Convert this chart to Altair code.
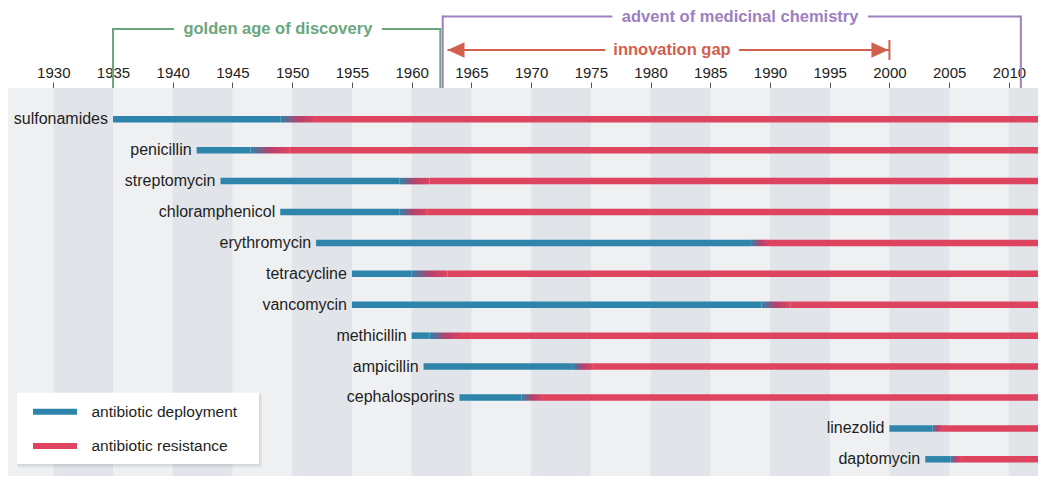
import altair as alt
import pandas as pd

# ---------------- data ----------------
drugs = ["sulfonamides", "penicillin", "streptomycin", "chloramphenicol",
         "erythromycin", "tetracycline", "vancomycin", "methicillin",
         "ampicillin", "cephalosporins", "linezolid", "daptomycin"]
deployed = [1935.0, 1942.0, 1944.0, 1949.0, 1952.0, 1955.0,
            1955.0, 1960.0, 1961.0, 1964.0, 2000.0, 2003.0]
resistance_emerging = [1949.0, 1946.5, 1959.0, 1959.0, 1988.4, 1960.0,
                       1989.3, 1961.5, 1973.5, 1969.2, 2003.6, 2005.1]
resistance_established = [1952.0, 1949.8, 1961.5, 1961.3, 1990.0, 1963.0,
                          1991.7, 1964.3, 1975.2, 1971.0, 2004.4, 2006.0]
timeline_end = 2012.9

tick_years = list(range(1930, 2011, 5))
stripe_starts = list(range(1930, 2011, 10))

legend_labels = ["antibiotic deployment", "antibiotic resistance"]

era_labels = ["golden age of discovery", "advent of medicinal chemistry", "innovation gap"]
era_left = [1935.0, 1962.6, 1963.0]
era_right = [1962.4, 2011.0, 2000.0]
era_gap_left = [1940.1, 1976.8, 1976.2]
era_gap_right = [1957.5, 1998.2, 1987.4]
era_mid = [1948.8, 1987.5, 1981.8]

# ---------------- style ----------------
FONT = "Liberation Sans"
BLUE = "#2e84ab"
RED = "#de4460"
GREEN = "#6aa67e"
PURPLE = "#9c80c0"
ANN_RED = "#d1604f"
BG = "#eef0f2"
STRIPE = "#e1e4e8"
TOP = 80          # space above the plot area for axis and era brackets
W, H = 1030, 388  # plot area

xscale = alt.Scale(domain=[1926.208, 2012.437], nice=False, zero=False, padding=0)
yscale = alt.Scale(domain=[-1.0126, 11.54], nice=False, zero=False, reverse=True, padding=0)
xaxis = alt.Axis(orient="top", values=tick_years, format="d", title=None,
                 labelFontSize=15, labelColor="#222", labelFont=FONT,
                 tickColor="#555", tickSize=6, tickWidth=1, domain=False,
                 grid=False, labelPadding=2, labelFlush=False)


def X(field):
    return alt.X(field, scale=xscale, axis=xaxis)


# ---------------- tables ----------------
rows = list(range(len(drugs)))
seg = pd.DataFrame(
    [{"drug": d, "row": r, "start": s, "end": e, "kind": legend_labels[0]}
     for d, r, s, e in zip(drugs, rows, deployed, resistance_emerging)] +
    [{"drug": d, "row": r, "start": s, "end": timeline_end, "kind": legend_labels[1]}
     for d, r, s in zip(drugs, rows, resistance_established)]
)
trans = pd.DataFrame({"drug": drugs, "row": rows,
                      "start": resistance_emerging, "end": resistance_established})
labels = pd.DataFrame({"drug": drugs, "row": rows, "start": deployed})
stripes = pd.DataFrame({"start": stripe_starts, "end": [s + 5 for s in stripe_starts]})
one = pd.DataFrame({"a": [0]})

# ---------------- layers ----------------
background = alt.Chart(one).mark_rect(color=BG).encode(
    x=alt.value(0), x2=alt.value(W), y=alt.value(0), y2=alt.value(H))

stripe_layer = alt.Chart(stripes).mark_rect(color=STRIPE, clip=True).encode(
    x=X("start:Q"), x2="end:Q", y=alt.value(0), y2=alt.value(H))

color = alt.Color("kind:N", scale=alt.Scale(domain=legend_labels, range=[BLUE, RED]),
                  legend=None)

bars = alt.Chart(seg).mark_bar(size=6.5, orient="horizontal", clip=True).encode(
    x=X("start:Q"), x2="end:Q",
    y=alt.Y("row:Q", scale=yscale, axis=None), color=color)

grad = alt.LinearGradient(
    gradient="linear", x1=0, x2=1, y1=0, y2=0,
    stops=[alt.GradientStop(offset=0, color=BLUE),
           alt.GradientStop(offset=0.5, color="#b5416c"),
           alt.GradientStop(offset=1, color=RED)])
trans_bars = alt.Chart(trans).mark_bar(size=6.5, orient="horizontal", color=grad).encode(
    x=X("start:Q"), x2="end:Q",
    y=alt.Y("row:Q", scale=yscale, axis=None))

label_layer = alt.Chart(labels).mark_text(
    align="right", baseline="middle", dx=-5, fontSize=16, font=FONT, color="#1e1e1e"
).encode(x=X("start:Q"), y=alt.Y("row:Q", scale=yscale, axis=None), text="drug:N")

layers = [background, stripe_layer, trans_bars, bars, label_layer]

# ---------------- era annotations ----------------
era_y = [21 - TOP, 8.5 - TOP, 42 - TOP]
era_color = [GREEN, PURPLE, ANN_RED]
for i in range(3):
    df = pd.DataFrame({"label": [era_labels[i]], "left": [era_left[i]],
                       "right": [era_right[i]], "gl": [era_gap_left[i]],
                       "gr": [era_gap_right[i]], "mid": [era_mid[i]]})
    yv, c = era_y[i], era_color[i]
    base = alt.Chart(df)
    layers.append(base.mark_rule(color=c, strokeWidth=2).encode(
        x=X("left:Q"), x2="gl:Q", y=alt.value(yv)))
    layers.append(base.mark_rule(color=c, strokeWidth=2).encode(
        x=X("gr:Q"), x2="right:Q", y=alt.value(yv)))
    layers.append(base.mark_text(color=c, fontSize=16.5, fontWeight="bold", font=FONT,
                                 baseline="middle", align="center").encode(
        x=X("mid:Q"), y=alt.value(yv), text="label:N"))
    if i < 2:
        for f in ["left", "right"]:
            layers.append(base.mark_rule(color=c, strokeWidth=2).encode(
                x=X(f + ":Q"), y=alt.value(yv - 1), y2=alt.value(0)))
    else:
        layers.append(base.mark_rule(color=c, strokeWidth=2).encode(
            x=X("right:Q"), y=alt.value(yv - 10), y2=alt.value(yv + 10)))
        layers.append(base.mark_point(shape="M1,-0.9L-1,0L1,0.9Z", filled=True, size=289,
                                      color=c, opacity=1, xOffset=8.5).encode(
            x=X("left:Q"), y=alt.value(yv)))
        layers.append(base.mark_point(shape="M-1,-0.9L1,0L-1,0.9Z", filled=True, size=289,
                                      color=c, opacity=1, xOffset=-9.5).encode(
            x=X("right:Q"), y=alt.value(yv)))

# ---------------- legend ----------------
LX, LY = 9, 384.7 - TOP
layers.append(alt.Chart(one).mark_rect(color="#000", opacity=0.05).encode(
    x=alt.value(LX + 1), x2=alt.value(LX + 245), y=alt.value(LY + 1.5), y2=alt.value(LY + 75)))
layers.append(alt.Chart(one).mark_rect(color="#000", opacity=0.05).encode(
    x=alt.value(LX), x2=alt.value(LX + 243.5), y=alt.value(LY + 0.5), y2=alt.value(LY + 73)))
layers.append(alt.Chart(one).mark_rect(color="#ffffff").encode(
    x=alt.value(LX), x2=alt.value(LX + 242), y=alt.value(LY), y2=alt.value(LY + 71.3)))
leg_y = [LY + 19, LY + 53.3]
for lab, yv in zip(legend_labels, leg_y):
    ldf = pd.DataFrame({"kind": [lab]})
    layers.append(alt.Chart(ldf).mark_rule(strokeWidth=6).encode(
        x=alt.value(LX + 16), x2=alt.value(LX + 60), y=alt.value(yv), color=color))
    layers.append(alt.Chart(ldf).mark_text(align="left", baseline="middle", fontSize=15.5,
                                           font=FONT, color="#1e1e1e").encode(
        x=alt.value(LX + 74.5), y=alt.value(yv), text="kind:N"))

chart = alt.layer(*layers).properties(
    width=W, height=H, autosize=alt.AutoSizeParams(type="none"),
    padding={"top": TOP, "left": 0, "right": 0, "bottom": 0},
    background="#ffffff"
).configure_view(stroke=None)

chart.save("out.html", embed_options={"renderer": "svg", "actions": False})
